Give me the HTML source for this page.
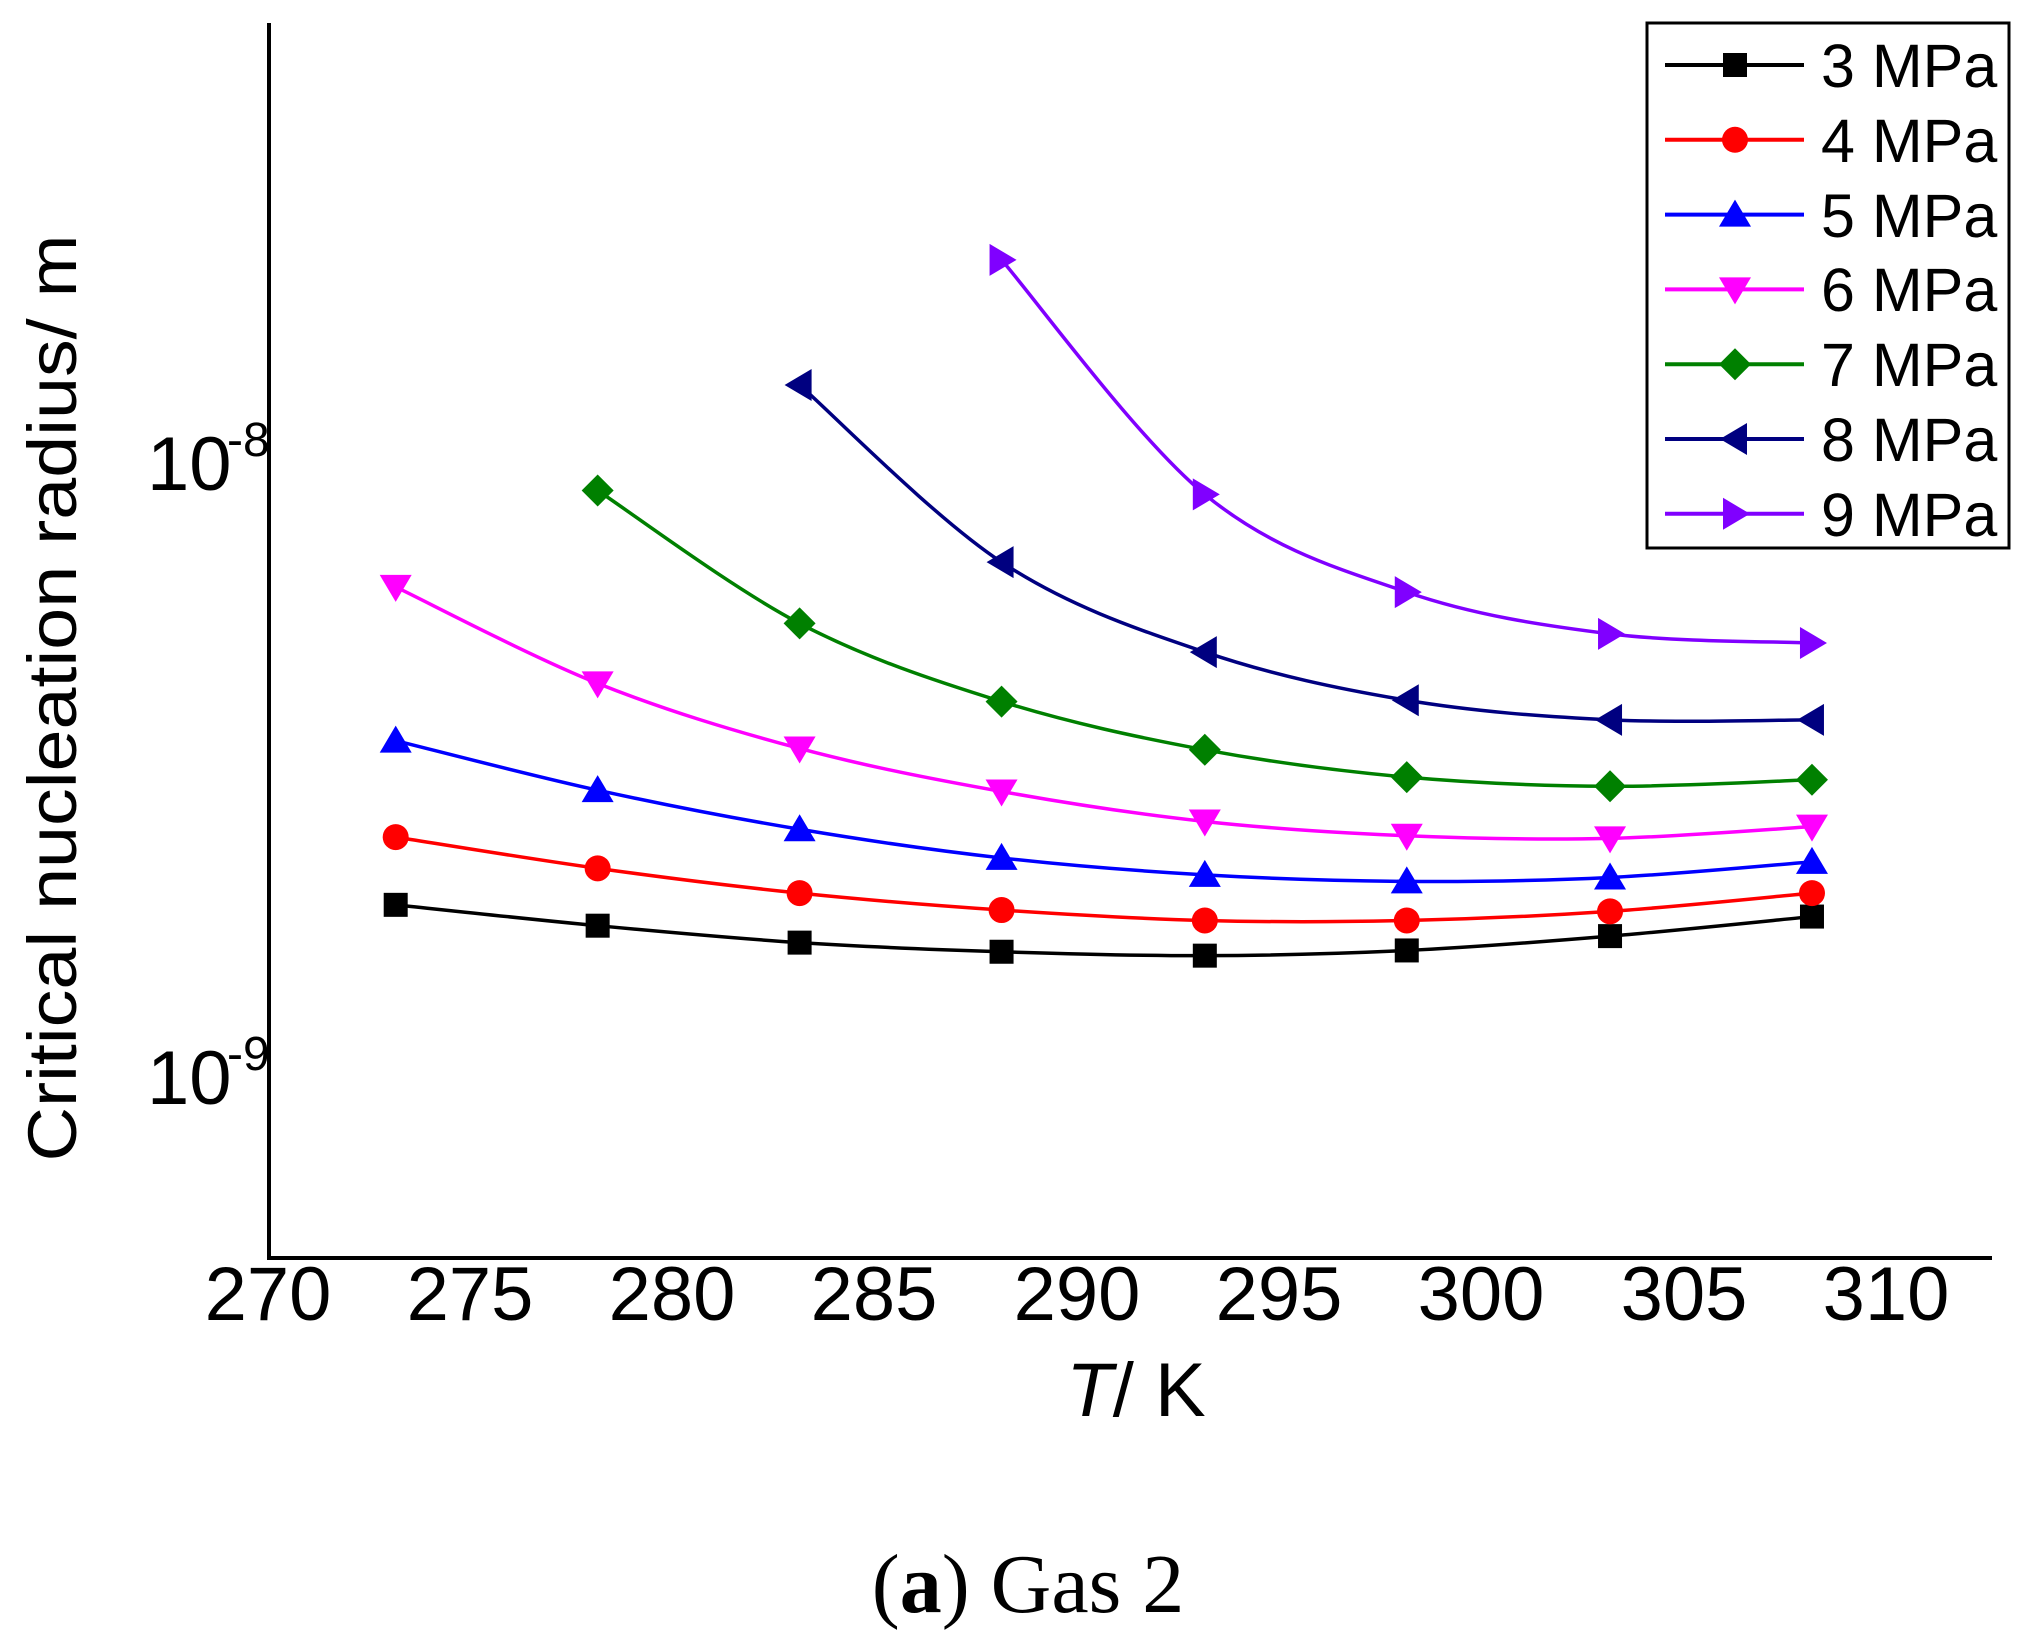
<!DOCTYPE html>
<html><head><meta charset="utf-8"><style>
html,body{margin:0;padding:0;background:#fff;}
svg{display:block;font-family:"Liberation Sans",Arial,sans-serif;}
</style></head><body>
<svg id="s" width="2037" height="1634" viewBox="0 0 2037 1634" xmlns="http://www.w3.org/2000/svg">
<rect width="2037" height="1634" fill="#fff"/>
<line x1="269" y1="23" x2="269" y2="1260" stroke="#000" stroke-width="4"/>
<line x1="267" y1="1258" x2="1992" y2="1258" stroke="#000" stroke-width="4"/>
<g font-size="76" text-anchor="middle" fill="#000">
<text x="268" y="1320">270</text><text x="470" y="1320">275</text><text x="672" y="1320">280</text>
<text x="874" y="1320">285</text><text x="1077" y="1320">290</text><text x="1279" y="1320">295</text>
<text x="1481" y="1320">300</text><text x="1684" y="1320">305</text><text x="1886" y="1320">310</text>
</g>
<g fill="#000">
<text x="147" y="490" font-size="76">10</text><text x="227" y="456" font-size="48">-8</text>
<text x="147" y="1104" font-size="76">10</text><text x="227" y="1070" font-size="48">-9</text>
</g>
<text transform="translate(76,698) rotate(-90)" font-size="69" text-anchor="middle" textLength="927" lengthAdjust="spacingAndGlyphs">Critical nucleation radius/ m</text>
<text x="1136" y="1416" font-size="76" text-anchor="middle"><tspan font-style="italic">T</tspan>/ K</text>
<text x="1028" y="1612" font-size="84" text-anchor="middle" font-family="Liberation Serif,serif">(<tspan font-weight="bold">a</tspan>) Gas 2</text>
<g id="series"></g>
<rect x="1647" y="23" width="362" height="525" fill="#fff" stroke="#000" stroke-width="3"/>
<g id="leg"></g>
<g font-size="61" fill="#000">
<text x="1821" y="87">3 MPa</text><text x="1821" y="162">4 MPa</text><text x="1821" y="237">5 MPa</text>
<text x="1821" y="311">6 MPa</text><text x="1821" y="386">7 MPa</text><text x="1821" y="461">8 MPa</text>
<text x="1821" y="536">9 MPa</text>
</g>
</svg>
<script>
var k=1/0.7675;
var S=[
['#000','sq',[[306,696],[461,712],[616,725],[771,732],[927,735],[1082,731],[1238,720],[1393,705]]],
['#f00','ci',[[306,644],[461,668],[616,687],[771,700],[927,708],[1082,708],[1238,701],[1393,687]]],
['#00f','up',[[306,570],[461,608],[616,638],[771,660],[927,673],[1082,678],[1238,675],[1393,663]]],
['#f0f','dn',[[306,452],[461,526],[616,576],[771,609],[927,632],[1082,643],[1238,645],[1393,636]]],
['#008000','di',[[461,378],[616,480],[771,540],[927,577],[1082,598],[1238,605],[1393,600]]],
['#000080','lt',[[616,297],[771,433],[927,502],[1082,539],[1238,554],[1393,554]]],
['#8000ff','rt',[[771,201],[927,381],[1082,456],[1238,488],[1393,495]]]];
var NS='http://www.w3.org/2000/svg';
function el(t,a,p){var e=document.createElementNS(NS,t);for(var q in a)e.setAttribute(q,a[q]);p.appendChild(e);return e;}
function mk(type,x,y,c,p){
 if(type=='sq')el('rect',{x:x-12,y:y-12,width:24,height:24,fill:c},p);
 else if(type=='ci')el('circle',{cx:x,cy:y,r:13,fill:c},p);
 else{var pts;
  if(type=='up')pts=[[x,y-15],[x+16,y+12],[x-16,y+12]];
  if(type=='dn')pts=[[x,y+15],[x+16,y-12],[x-16,y-12]];
  if(type=='di')pts=[[x,y-16],[x+16,y],[x,y+16],[x-16,y]];
  if(type=='lt')pts=[[x-15,y],[x+12,y-16],[x+12,y+16]];
  if(type=='rt')pts=[[x+15,y],[x-12,y-16],[x-12,y+16]];
  el('polygon',{points:pts.map(function(a){return a.join(',')}).join(' '),fill:c},p);}
}
var g=document.getElementById('series');
S.forEach(function(s){
 var P=s[2].map(function(a){return [a[0]*k-3,a[1]*k-2]});
 var d='M'+P[0][0]+','+P[0][1];
 for(var i=0;i<P.length-1;i++){
  var p0=P[Math.max(i-1,0)],p1=P[i],p2=P[i+1],p3=P[Math.min(i+2,P.length-1)];
  var c1=[p1[0]+(p2[0]-p0[0])/6,p1[1]+(p2[1]-p0[1])/6],c2=[p2[0]-(p3[0]-p1[0])/6,p2[1]-(p3[1]-p1[1])/6];
  d+=' C'+c1+' '+c2+' '+p2;}
 el('path',{d:d,fill:'none',stroke:s[0],'stroke-width':3.5},g);
 P.forEach(function(p){mk(s[1],p[0],p[1],s[0],g)});
});
var L=document.getElementById('leg');
S.forEach(function(s,i){var y=65+74.8*i;
 el('line',{x1:1665,y1:y,x2:1804,y2:y,stroke:s[0],'stroke-width':4},L);
 mk(s[1],1735,y,s[0],L);});
</script>
</body></html>
